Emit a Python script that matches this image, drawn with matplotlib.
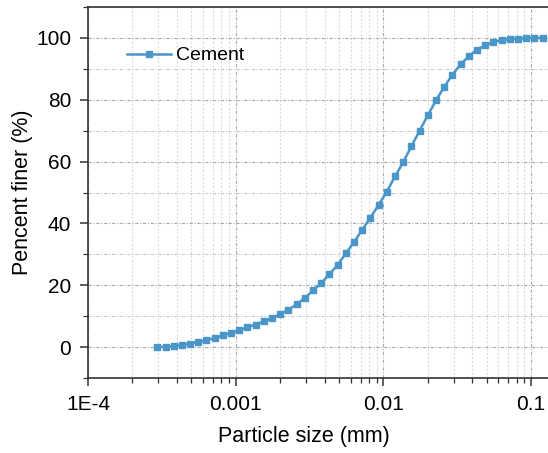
import numpy as np
import matplotlib
matplotlib.use('Agg')
from matplotlib import pyplot as plt
from matplotlib import ticker

# dados (tamanho em mm, % passante)
tamanho = [0.000294, 0.000335, 0.000380, 0.000432, 0.000491, 0.000558, 0.000634, 0.000720,
           0.000818, 0.000930, 0.001057, 0.001201, 0.001365, 0.001551, 0.001762, 0.002002,
           0.002275, 0.002585, 0.002938, 0.003338, 0.003793, 0.004310, 0.004898, 0.005565,
           0.006324, 0.007186, 0.008166, 0.009279, 0.01054, 0.01198, 0.01361, 0.01547,
           0.01758, 0.01997, 0.02270, 0.02579, 0.02931, 0.03330, 0.03784, 0.04300,
           0.04887, 0.05553, 0.06310, 0.07170, 0.08147, 0.09258, 0.1052, 0.1195]
passante = [0.0, 0.1, 0.3, 0.65, 1.1, 1.6, 2.2, 2.9, 3.8, 4.6, 5.4, 6.4, 7.3, 8.3, 9.4, 10.6,
            12.1, 13.8, 15.9, 18.3, 20.7, 23.6, 26.6, 30.3, 34.0, 37.9, 41.9, 46.0,
            50.3, 55.2, 59.8, 65.0, 70.0, 75.0, 79.8, 84.2, 88.1, 91.5, 94.1, 96.2,
            97.6, 98.7, 99.3, 99.6, 99.8, 99.9, 100.0, 100.0]

x_ticks = [1e-4, 1e-3, 1e-2, 1e-1]
x_labels = ['1E-4', '0.001', '0.01', '0.1']
y_ticks = [0, 20, 40, 60, 80, 100]

plt.rcParams['font.family'] = ['Liberation Sans', 'DejaVu Sans']

fig = plt.figure(figsize=(5.48, 4.53), dpi=100)
ax = fig.add_axes([0.1606, 0.1656, 0.8394, 0.8189])

ax.plot(tamanho, passante, color='#4a96c8', lw=1.8, marker='s', ms=3.8,
        mfc='#4a96c8', mec='#4a96c8', label='Cement')

ax.set_xscale('log')
ax.set_xlim(1e-4, 0.130)
ax.set_ylim(-10, 110)

ax.xaxis.set_major_locator(ticker.FixedLocator(x_ticks))
ax.xaxis.set_major_formatter(ticker.FixedFormatter(x_labels))
ax.xaxis.set_minor_locator(ticker.LogLocator(base=10, subs=np.arange(2, 10)))
ax.xaxis.set_minor_formatter(ticker.NullFormatter())
ax.yaxis.set_major_locator(ticker.FixedLocator(y_ticks))
ax.yaxis.set_minor_locator(ticker.MultipleLocator(10))

ax.tick_params(axis='both', which='major', direction='out', length=6, width=1.1,
               labelsize=15, color='#333333', pad=6)
ax.tick_params(axis='both', which='minor', direction='out', length=3.5, width=0.9,
               color='#333333')

ax.grid(which='major', color='#a8a8a8', linestyle=(0, (3, 1.5, 1, 1.5)), lw=0.8)
ax.grid(which='minor', axis='x', color='#dcdcdc', linestyle=(0, (2, 1.5)), lw=0.8)
ax.grid(which='minor', axis='y', color='#c8c8c8', linestyle=(0, (3, 1.5, 1, 1.5)), lw=0.8)
ax.set_axisbelow(True)

for lado in ['left', 'bottom', 'top']:
    ax.spines[lado].set_color('#333333')
    ax.spines[lado].set_linewidth(1.2)
ax.spines['right'].set_visible(False)

ax.set_xlabel('Particle size (mm)', fontsize=15.5)
ax.xaxis.set_label_coords(0.47, -0.13)
ax.set_ylabel('Pencent finer (%)', fontsize=15.5)
ax.yaxis.set_label_coords(-0.12, 0.5)

ax.legend(loc='upper left', bbox_to_anchor=(0.046, 0.94), frameon=False, fontsize=14,
          handlelength=2.3, handletextpad=0.25)

fig.savefig('out.png', dpi=100)
